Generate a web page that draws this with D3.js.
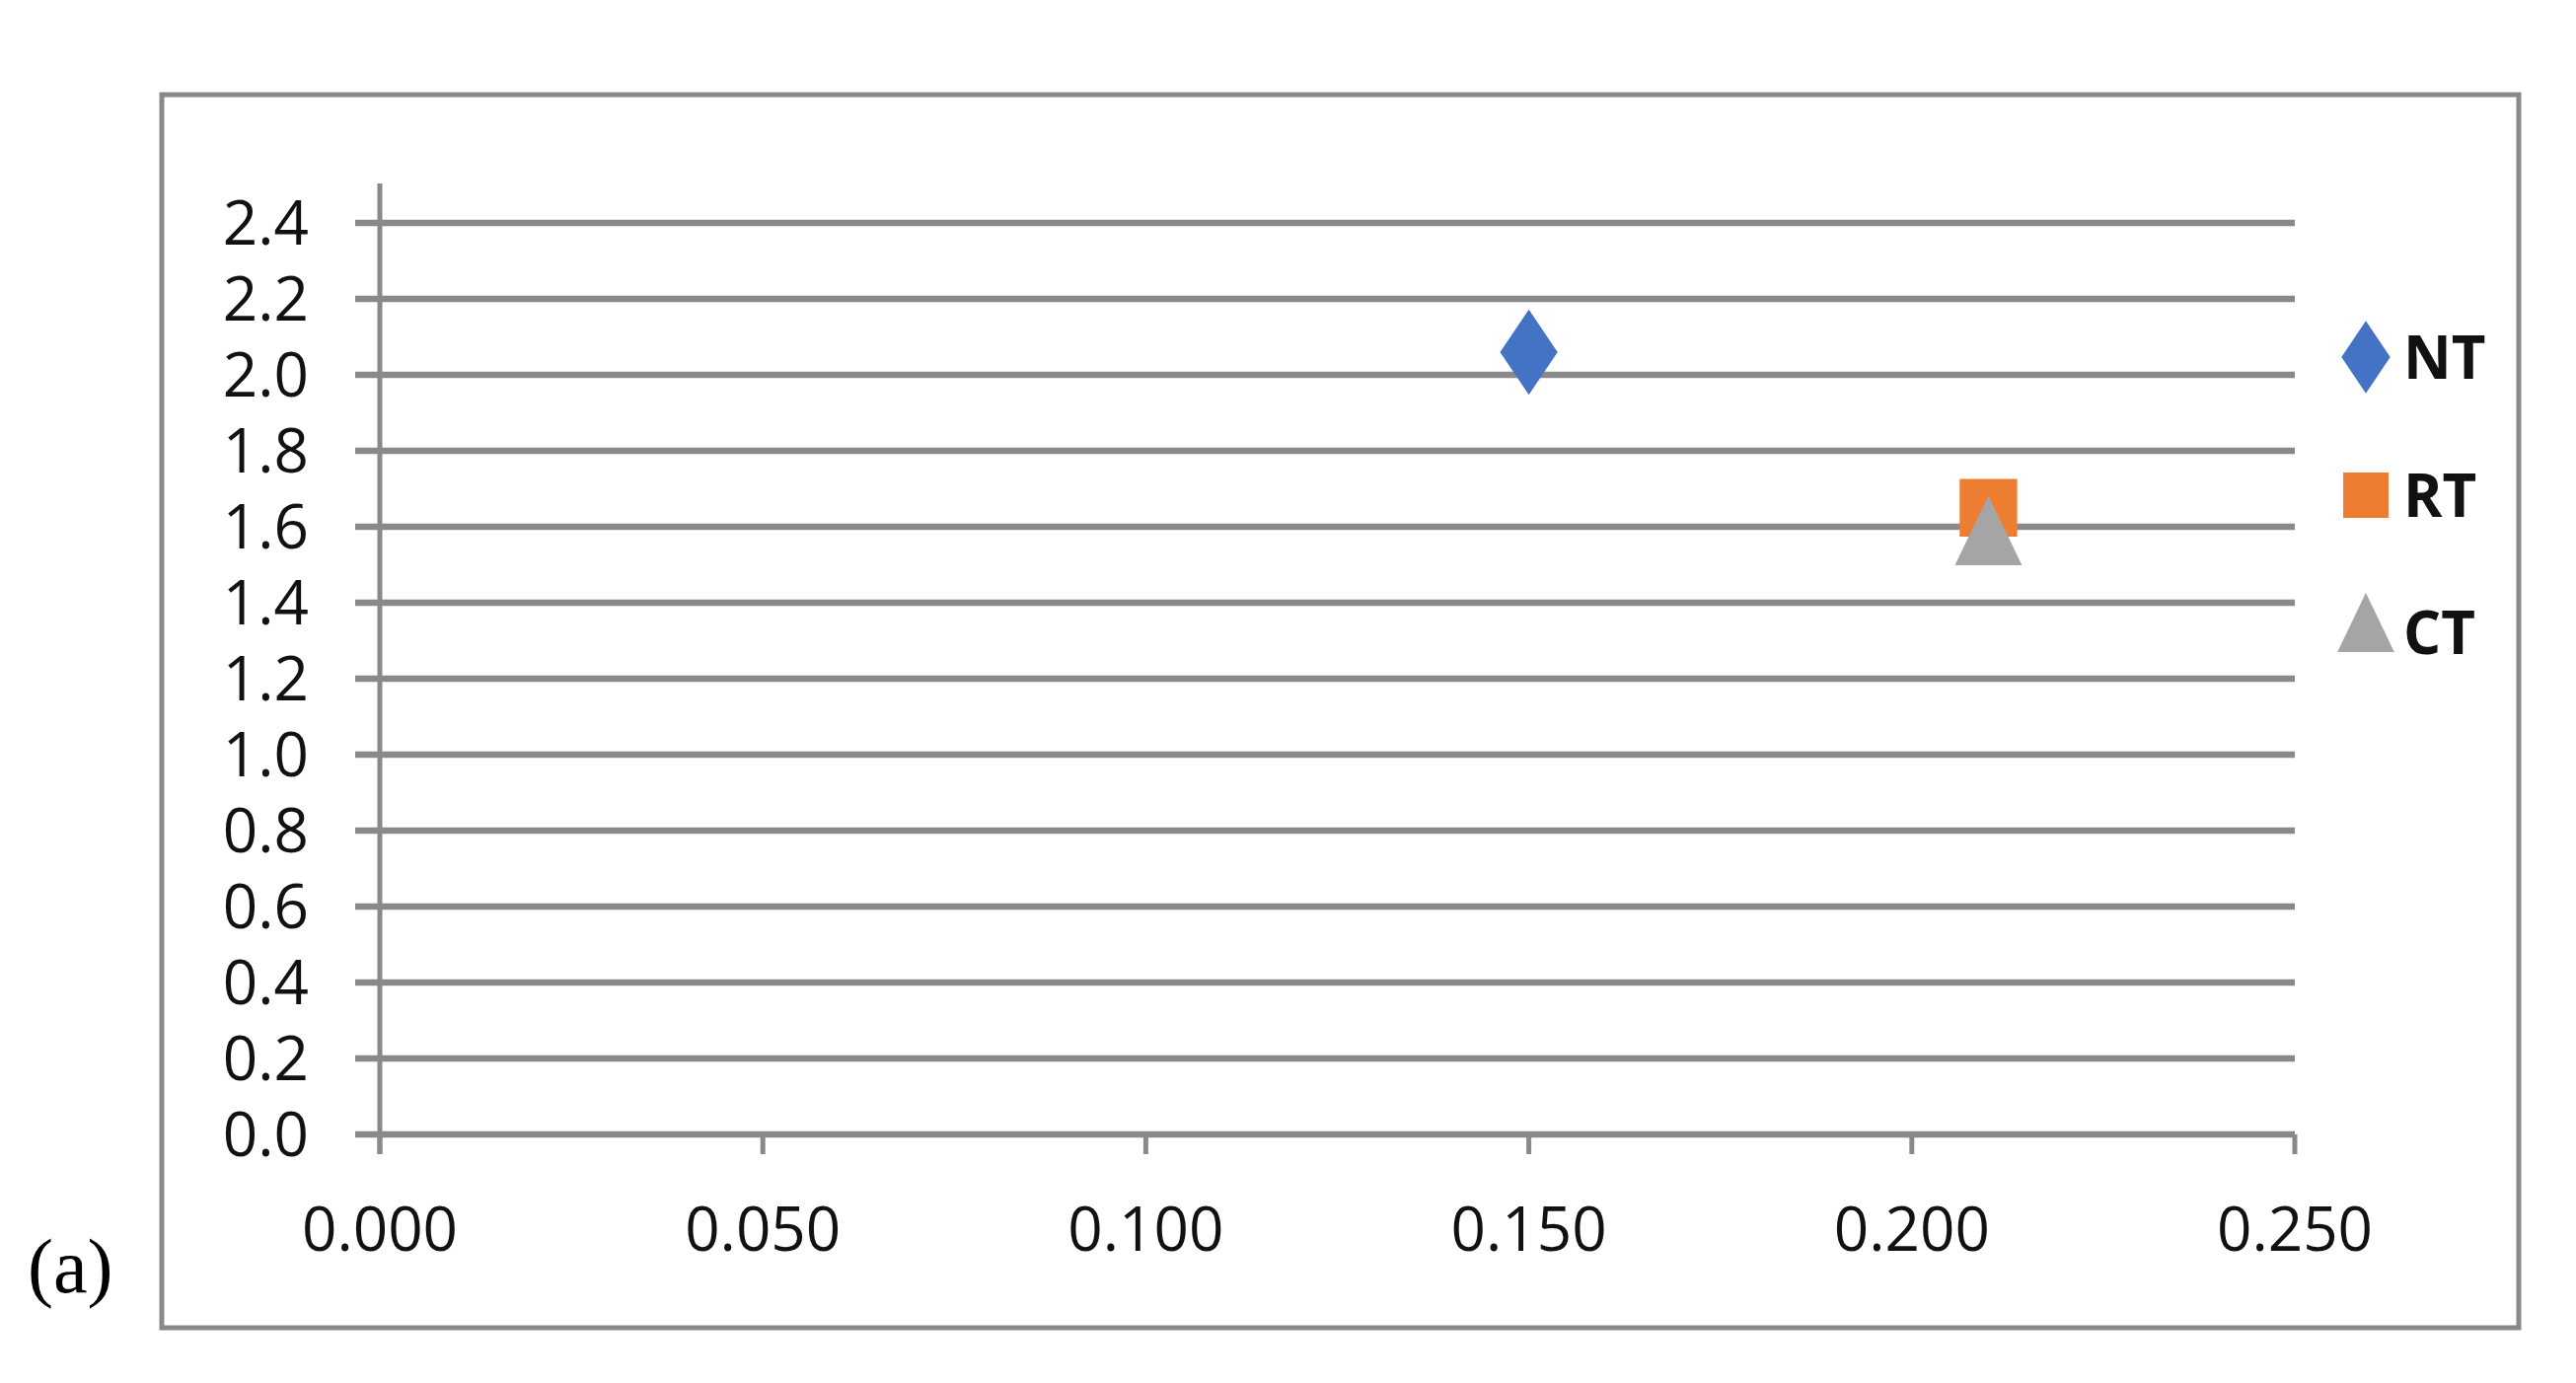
<!DOCTYPE html>
<html><head><meta charset="utf-8">
<script src="https://cdn.jsdelivr.net/npm/d3@7"></script>
<style>body{margin:0;background:#fff}</style>
</head><body>
<svg id="chart" width="2611" height="1402"></svg>
<script>
// series data
const series = ["NT", "RT", "CT"];
const xValues = [0.150, 0.210, 0.210];
const yValues = [2.06, 1.65, 1.56];
const colors = ["#4472c4", "#ed7d31", "#a5a5a5"];
const xTicks = [0, 0.05, 0.1, 0.15, 0.2, 0.25];
const yTicks = [0, 0.2, 0.4, 0.6, 0.8, 1.0, 1.2, 1.4, 1.6, 1.8, 2.0, 2.2, 2.4];

const svg = d3.select("#chart");
const font = "'Open Sans', sans-serif";
const grey = "#898989";

// outer frame
svg.append("rect").attr("x", 164).attr("y", 96).attr("width", 2389).attr("height", 1250)
  .attr("fill", "none").attr("stroke", grey).attr("stroke-width", 5);

const x = d3.scaleLinear().domain([0, 0.25]).range([385, 2326]);
const y = d3.scaleLinear().domain([0, 2.4]).range([1150, 226]);

// gridlines
svg.append("g").selectAll("line").data(yTicks).join("line")
  .attr("x1", 360).attr("x2", 2326).attr("y1", d => y(d)).attr("y2", d => y(d))
  .attr("stroke", grey).attr("stroke-width", 6.5);

// y axis line
svg.append("line").attr("x1", 385).attr("x2", 385).attr("y1", 186).attr("y2", 1170)
  .attr("stroke", grey).attr("stroke-width", 5);
// x ticks
svg.append("g").selectAll("line").data(xTicks).join("line")
  .attr("x1", d => x(d)).attr("x2", d => x(d)).attr("y1", 1150).attr("y2", 1170)
  .attr("stroke", grey).attr("stroke-width", 5);

// labels
svg.append("g").selectAll("text").data(yTicks).join("text")
  .attr("x", 313).attr("y", d => y(d)).attr("dy", "0.36em").attr("text-anchor", "end")
  .attr("font-family", font).attr("font-size", 62).attr("fill", "#111")
  .text(d => d3.format(".1f")(d));
svg.append("g").selectAll("text").data(xTicks).join("text")
  .attr("x", d => x(d)).attr("y", 1246).attr("dy", "0.36em").attr("text-anchor", "middle")
  .attr("font-family", font).attr("font-size", 62).attr("fill", "#111")
  .text(d => d3.format(".3f")(d));

// markers
const shapes = [d3.symbolDiamond, d3.symbolSquare, d3.symbolTriangle];
const sizes = [1500, 3400, 2000];
const sx = [1.4, 1.0, 1.0];
const sy = [1.2, 1.0, 1.2];
function marker(g, i, k) {
  g.append("path").attr("d", d3.symbol().type(shapes[i]).size(sizes[i] * k)())
    .attr("fill", colors[i]).attr("transform", `scale(${sx[i]},${sy[i]})`);
}
series.forEach((s, i) => {
  const g = svg.append("g").attr("transform", `translate(${x(xValues[i])},${y(yValues[i])})`);
  marker(g, i, 1);
});

// legend
const legendY = [362, 502, 641];
series.forEach((s, i) => {
  const g = svg.append("g").attr("transform", `translate(2398,${legendY[i]})`);
  marker(g, i, i === 1 ? 0.62 : 0.72);
  g.append("text").attr("x", 38).attr("dy", "0.36em")
    .attr("font-family", font).attr("font-size", 60).attr("font-weight", "bold")
    .attr("fill", "#111").text(s);
});

svg.append("text").attr("x", 28).attr("y", 1310)
  .attr("font-family", "'Liberation Serif', serif").attr("font-size", 78).text("(a)");
</script>
</body></html>
